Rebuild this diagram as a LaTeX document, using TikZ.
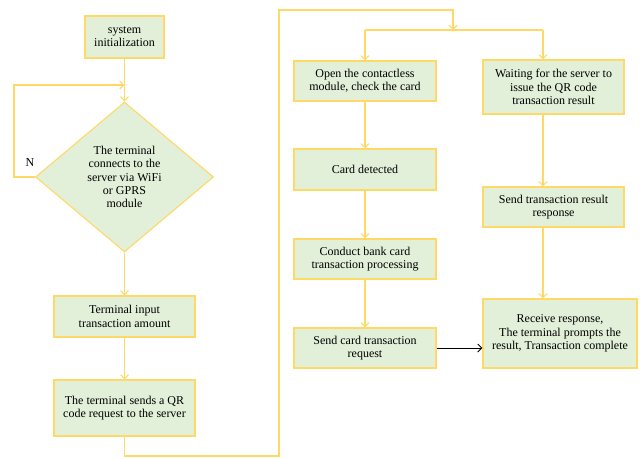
\documentclass[tikz,border=0pt]{standalone}
\usepackage{fontspec}
\setmainfont{Liberation Serif}
\usetikzlibrary{shapes.geometric,arrows.meta,calc}
\definecolor{boxfill}{HTML}{E2EFD9}
\definecolor{boxline}{HTML}{FFD966}
\definecolor{flowline}{HTML}{FFD966}
\begin{document}
\begin{tikzpicture}[x=1pt,y=-1pt,
  every node/.style={font=\fontsize{12}{13.3}\selectfont, align=center, inner sep=1pt},
  stepbox/.style={rectangle, draw=boxline, fill=boxfill, line width=1.1pt},
  decision/.style={diamond, draw=boxline, fill=boxfill, line width=1.1pt,
    minimum width=178pt, minimum height=150pt, inner sep=0pt},
  flow/.style={draw=flowline, line width=1.1pt, -{Straight Barb[length=4pt,width=8pt]}},
  plain/.style={draw=flowline, line width=1.1pt},
  link/.style={draw=black, line width=1pt, -{Straight Barb[length=4pt,width=8pt]}}]
\useasboundingbox (0,0) rectangle (642,458);

% left column
\node[stepbox, minimum width=79pt, minimum height=42pt] (init) at (124.5,37) {system\\initialization};
\node[decision] (conn) at (124.5,177) {The terminal\\connects to the\\server via WiFi\\or GPRS\\module};
\node[stepbox, minimum width=141pt, minimum height=41pt] (amount) at (124.5,316.5) {Terminal input\\transaction amount};
\node[stepbox, minimum width=141pt, minimum height=56pt] (qrreq) at (124.5,408) {The terminal sends a QR\\code request to the server};

% card branch
\node[stepbox, minimum width=142pt, minimum height=40pt] (open) at (365,81) {Open the contactless\\module, check the card};
\node[stepbox, minimum width=142pt, minimum height=41pt] (card) at (365,169.5) {Card detected};
\node[stepbox, minimum width=142pt, minimum height=40pt] (bank) at (365,259) {Conduct bank card\\transaction processing};
\node[stepbox, minimum width=142pt, minimum height=40pt] (sendcard) at (365,348) {Send card transaction\\request};

% QR branch
\node[stepbox, minimum width=141pt, minimum height=54pt] (wait) at (553.5,87) {Waiting for the server to\\issue the QR code\\transaction result};
\node[stepbox, minimum width=141pt, minimum height=40pt] (result) at (553.5,207) {Send transaction result\\response};
\node[stepbox, minimum width=154pt, minimum height=69pt] (receive) at (560,333.5) {Receive response,\\The terminal prompts the\\result, Transaction complete};

\node (nlabel) at (30,163) {N};

% routing points
\coordinate (loopin) at (124.5,85);
\coordinate (bl) at (279,456);
\coordinate (tr) at (453,10);
\coordinate (split) at (453,30);
\coordinate (sl) at (365,30);
\coordinate (sr) at (543,30);
\coordinate (rc) at (543,0);

% connectors
\draw[flow] (init) -- (conn);
\draw[flow] (conn.west) -- ++(-21,0) |- (loopin);
\draw[flow] (conn) -- (amount);
\draw[flow] (amount) -- (qrreq);
\draw[flow] (qrreq.south) |- (bl) |- (tr) -- (split);
\draw[plain] (sl) -- (sr);
\draw[flow] (sl) -- (open.north);
\draw[flow] (sr) -- (rc |- wait.north);
\draw[flow] (open) -- (card);
\draw[flow] (card) -- (bank);
\draw[flow] (bank) -- (sendcard);
\draw[flow] (rc |- wait.south) -- (rc |- result.north);
\draw[flow] (rc |- result.south) -- (rc |- receive.north);
\draw[link] (sendcard.east) -- (sendcard.east -| receive.west);
\end{tikzpicture}
\end{document}
